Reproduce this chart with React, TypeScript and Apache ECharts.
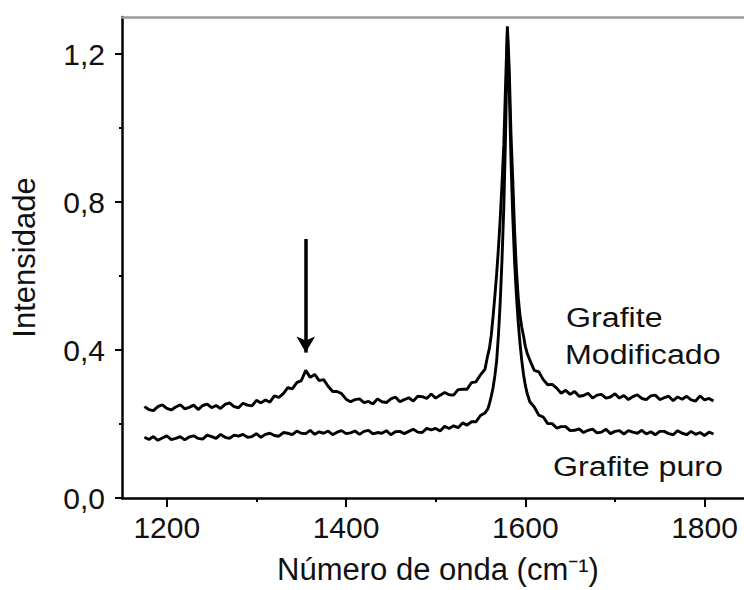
import React, { useEffect, useRef } from "react";
import * as echarts from "echarts";

// Raman spectra of pure and modified graphite (D band ~1355, G band ~1580 cm-1)
const waveLow = [
  1175, 1180, 1185, 1190, 1195, 1200, 1205, 1210, 1215, 1220, 1225, 1230, 1235, 1240, 1245, 1250,
  1255, 1260, 1265, 1270, 1275, 1280, 1285, 1290, 1295, 1300, 1305, 1310, 1315, 1320, 1325, 1330,
  1335, 1340, 1345, 1350, 1355, 1360, 1365, 1370, 1375, 1380, 1385, 1390, 1395, 1400, 1405, 1410,
  1415, 1420, 1425, 1430, 1435, 1440, 1445, 1450, 1455, 1460, 1465, 1470, 1475, 1480, 1485, 1490,
  1495, 1500, 1505, 1510, 1515, 1520, 1525, 1530, 1535, 1540, 1545, 1550, 1555,
];
const wavePeak = [
  1558, 1560, 1562, 1564, 1566, 1568, 1570, 1572, 1574, 1576, 1578, 1580, 1582, 1584, 1586, 1588,
  1590, 1592, 1594, 1596, 1598, 1600, 1602,
];
const waveHigh = [
  1605, 1610, 1615, 1620, 1625, 1630, 1635, 1640, 1645, 1650, 1655, 1660, 1665, 1670, 1675, 1680,
  1685, 1690, 1695, 1700, 1705, 1710, 1715, 1720, 1725, 1730, 1735, 1740, 1745, 1750, 1755, 1760,
  1765, 1770, 1775, 1780, 1785, 1790, 1795, 1800, 1805, 1810,
];

const modifiedLow = [
  0.247, 0.239, 0.236, 0.247, 0.252, 0.242, 0.238, 0.246, 0.252, 0.241, 0.245, 0.251, 0.239, 0.25, 0.254, 0.244,
  0.25, 0.242, 0.253, 0.257, 0.247, 0.244, 0.256, 0.251, 0.249, 0.264, 0.257, 0.265, 0.259, 0.276, 0.272, 0.282,
  0.298, 0.295, 0.312, 0.317, 0.345, 0.326, 0.334, 0.317, 0.32, 0.302, 0.288, 0.288, 0.282, 0.267, 0.26, 0.266,
  0.268, 0.258, 0.261, 0.254, 0.268, 0.26, 0.258, 0.268, 0.273, 0.26, 0.266, 0.271, 0.262, 0.275, 0.274, 0.269,
  0.281, 0.27, 0.278, 0.285, 0.279, 0.278, 0.293, 0.294, 0.294, 0.312, 0.314, 0.333, 0.348,
];
const modifiedPeak = [
  0.385, 0.405, 0.44, 0.49, 0.545, 0.605, 0.675, 0.755, 0.85, 0.955, 1.12, 1.275, 1.165, 0.985, 0.86, 0.725,
  0.62, 0.545, 0.495, 0.462, 0.438, 0.41, 0.392,
];
const modifiedHigh = [
  0.373, 0.345, 0.341, 0.32, 0.306, 0.307, 0.297, 0.283, 0.291, 0.28, 0.288, 0.275, 0.277, 0.283, 0.27, 0.278,
  0.28, 0.27, 0.273, 0.282, 0.27, 0.277, 0.266, 0.274, 0.279, 0.269, 0.266, 0.276, 0.278, 0.266, 0.271, 0.275,
  0.263, 0.273, 0.267, 0.275, 0.265, 0.262, 0.276, 0.265, 0.269, 0.262,
];

const pureLow = [
  0.164, 0.158, 0.166, 0.156, 0.162, 0.168, 0.158, 0.161, 0.166, 0.157, 0.165, 0.168, 0.161, 0.159, 0.17, 0.166,
  0.161, 0.172, 0.164, 0.161, 0.17, 0.167, 0.172, 0.164, 0.166, 0.174, 0.164, 0.172, 0.175, 0.169, 0.167, 0.177,
  0.175, 0.171, 0.181, 0.175, 0.174, 0.183, 0.172, 0.179, 0.175, 0.181, 0.171, 0.178, 0.182, 0.174, 0.176, 0.181,
  0.172, 0.18, 0.183, 0.173, 0.177, 0.175, 0.182, 0.171, 0.179, 0.18, 0.174, 0.18, 0.186, 0.178, 0.177, 0.188,
  0.184, 0.188, 0.181, 0.194, 0.188, 0.195, 0.19, 0.203, 0.197, 0.206, 0.206, 0.223, 0.23,
];
const purePeak = [
  0.24, 0.255, 0.275, 0.298, 0.33, 0.37, 0.44, 0.53, 0.645, 0.785, 0.985, 1.262, 1.115, 0.915, 0.76, 0.64,
  0.55, 0.478, 0.42, 0.372, 0.334, 0.305, 0.283,
];
const pureHigh = [
  0.26, 0.246, 0.224, 0.219, 0.201, 0.201, 0.189, 0.193, 0.193, 0.182, 0.183, 0.187, 0.177, 0.183, 0.186, 0.176,
  0.178, 0.186, 0.174, 0.18, 0.182, 0.173, 0.182, 0.178, 0.175, 0.183, 0.173, 0.179, 0.171, 0.18, 0.18, 0.174,
  0.171, 0.182, 0.175, 0.171, 0.18, 0.172, 0.177, 0.169, 0.178, 0.173,
];

const xMajorTicks = [1200, 1400, 1600, 1800];
const xMinorTicks = [1300, 1500, 1700];
const yMajorTicks = [0, 0.4, 0.8, 1.2];
const yMinorTicks = [0.2, 0.6, 1.0];

// D band marker
const arrowWave = 1355;
const arrowFrom = 0.7;
const arrowTo = 0.393;

const FONT = '"Liberation Sans", Arial, Helvetica, sans-serif';

function pairs(xs: number[], ys: number[]): number[][] {
  return xs.map((x, i) => [x, ys[i]]);
}

export default function App() {
  const ref = useRef<HTMLDivElement>(null);

  useEffect(() => {
    document.body.style.margin = "0";
    if (!ref.current) return;
    const chart = echarts.init(ref.current, undefined, { renderer: "svg" });

    const waves = [...waveLow, ...wavePeak, ...waveHigh];
    const modified = [...modifiedLow, ...modifiedPeak, ...modifiedHigh];
    const pure = [...pureLow, ...purePeak, ...pureHigh];

    const xMin = 1150;
    const xMax = 1844;
    const yMin = 0;
    const yMax = 1.3;

    const annotation = (text: string, x: number, y: number) => ({
      type: "text",
      x,
      y,
      scaleX: 1.15,
      style: { text, font: `28px ${FONT}`, fill: "#111", verticalAlign: "top" },
    });

    chart.setOption({
      animation: false,
      backgroundColor: "#ffffff",
      grid: { left: 122, top: 17, right: 0, bottom: 90 },
      xAxis: [
        {
          type: "value",
          min: xMin,
          max: xMax,
          position: "bottom",
          name: "Número de onda (cm⁻¹)",
          nameLocation: "middle",
          nameGap: 56,
          nameTextStyle: { fontFamily: FONT, fontSize: 31, color: "#111", padding: [0, 0, 0, 10] },
          axisLine: { show: true, onZero: false, lineStyle: { color: "#000", width: 2.5 } },
          axisTick: { show: true, inside: false, length: 9, customValues: xMajorTicks, lineStyle: { color: "#000", width: 2 } },
          axisLabel: {
            customValues: xMajorTicks,
            margin: 14,
            fontFamily: FONT,
            fontSize: 30,
            color: "#111",
            formatter: (v: number) => String(v),
          },
          splitLine: { show: false },
        },
        {
          type: "value",
          min: xMin,
          max: xMax,
          position: "bottom",
          axisLine: { show: false },
          axisTick: { show: true, inside: false, length: 4, customValues: xMinorTicks, lineStyle: { color: "#000", width: 2 } },
          axisLabel: { show: false },
          splitLine: { show: false },
        },
        {
          type: "value",
          min: xMin,
          max: xMax,
          position: "top",
          axisLine: { show: true, onZero: false, lineStyle: { color: "#9a9a9a", width: 2.5 } },
          axisTick: { show: false },
          axisLabel: { show: false },
          splitLine: { show: false },
        },
      ],
      yAxis: [
        {
          type: "value",
          min: yMin,
          max: yMax,
          position: "left",
          name: "Intensidade",
          nameLocation: "middle",
          nameGap: 82,
          nameTextStyle: { fontFamily: FONT, fontSize: 31, color: "#111" },
          axisLine: { show: true, onZero: false, lineStyle: { color: "#000", width: 2.5 } },
          axisTick: { show: true, inside: false, length: 7, customValues: yMajorTicks, lineStyle: { color: "#000", width: 2 } },
          axisLabel: {
            customValues: yMajorTicks,
            margin: 17,
            fontFamily: FONT,
            fontSize: 30,
            color: "#111",
            formatter: (v: number) => v.toFixed(1).replace(".", ","),
          },
          splitLine: { show: false },
        },
        {
          type: "value",
          min: yMin,
          max: yMax,
          position: "left",
          axisLine: { show: false },
          axisTick: { show: true, inside: false, length: 3, customValues: yMinorTicks, lineStyle: { color: "#000", width: 2 } },
          axisLabel: { show: false },
          splitLine: { show: false },
        },
      ],
      series: [
        {
          name: "Grafite Modificado",
          type: "line",
          data: pairs(waves, modified),
          showSymbol: false,
          symbol: "none",
          lineStyle: { color: "#000", width: 2.9 },
          z: 3,
          markLine: {
            silent: true,
            symbol: ["none", "arrow"],
            symbolSize: [14, 16],
            label: { show: false },
            lineStyle: { color: "#000", width: 3.5, type: "solid" },
            data: [[{ coord: [arrowWave, arrowFrom] }, { coord: [arrowWave, arrowTo] }]],
          },
        },
        {
          name: "Grafite puro",
          type: "line",
          data: pairs(waves, pure),
          showSymbol: false,
          symbol: "none",
          lineStyle: { color: "#000", width: 2.9 },
          z: 3,
        },
      ],
      graphic: [
        annotation("Grafite", 566, 303),
        annotation("Modificado", 565, 340),
        annotation("Grafite puro", 553, 452),
      ],
    });

    return () => chart.dispose();
  }, []);

  return <div ref={ref} style={{ width: 744, height: 590 }} />;
}
